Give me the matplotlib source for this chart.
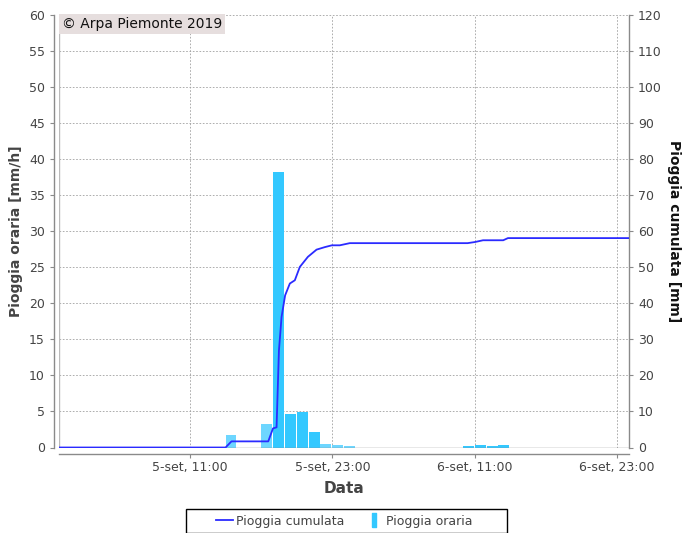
import datetime as dt

import matplotlib
matplotlib.use("Agg")
import matplotlib.pyplot as plt
from matplotlib.lines import Line2D
from matplotlib.patches import Rectangle

plt.rcParams["font.family"] = ["DejaVu Sans"]

T0 = dt.datetime(2019, 9, 5, 0, 0)

# hourly rain (mm/h): hour offset from 5-set 00:00 -> value
bar_hours = [14, 17, 18, 19, 20, 21, 22, 23, 24, 34, 35, 36, 37]
bar_vals = [1.7, 3.3, 38.2, 4.7, 4.9, 2.1, 0.5, 0.4, 0.2, 0.2, 0.4, 0.2, 0.4]
bar_light = [True, True, False, False, False, False, True, True, True, False, False, False, False]

# cumulated rain (mm) vs hour offset
cum_hours = [0, 14.0, 14.5, 17.6, 18.0, 18.3, 18.5, 18.72, 19.02, 19.42, 19.84, 20.26,
             20.94, 21.67, 22.37, 22.96, 23.63, 24.47, 34.4, 35.0, 35.7, 37.4, 37.8, 48.0]
cum_vals = [0, 0, 1.7, 1.7, 5.3, 5.6, 26.9, 36.2, 42.2, 45.5, 46.4, 50.1,
            52.9, 54.9, 55.6, 56.1, 56.1, 56.7, 56.7, 57.0, 57.5, 57.5, 58.1, 58.1]

tick_hours = [11, 23, 35, 47]
tick_labels = ["5-set, 11:00", "5-set, 23:00", "6-set, 11:00", "6-set, 23:00"]

BAR_C = "#33c8ff"
BAR_LIGHT = "#6dd6ff"
LINE_C = "#2b2bff"
GRID_C = "#a0a0a0"
AXIS_C = "#8a8a8a"
TXT_C = "#444444"

W, H = 685, 533
fig = plt.figure(figsize=(W / 100, H / 100), dpi=100)
ax = fig.add_axes([59.4 / W, 1 - 447.5 / H, (629 - 59.4) / W, (447.5 - 15) / H])
ax2 = ax.twinx()

hour = dt.timedelta(hours=1)
bx = [T0 + h * hour for h in bar_hours]
cols = [BAR_LIGHT if l else BAR_C for l in bar_light]
ax.bar(bx, bar_vals, width=0.92 / 24, align="edge", color=cols, linewidth=0, zorder=3)

cx = [T0 + dt.timedelta(hours=h) for h in cum_hours]
ax2.plot(cx, cum_vals, color=LINE_C, lw=1.3, zorder=4)

ax.set_xlim(T0, T0 + 48 * hour)
ax.set_ylim(0, 60)
ax2.set_ylim(0, 120)
ax.set_yticks(range(0, 61, 5))
ax2.set_yticks(range(0, 121, 10))
ax.set_xticks([T0 + h * hour for h in tick_hours])
ax.set_xticklabels(tick_labels)

ax.grid(True, color=GRID_C, ls=(0, (2, 2)), lw=0.6, zorder=0)
ax.set_axisbelow(True)

# spines: offset axes like the original renderer
for a in (ax, ax2):
    for s in a.spines.values():
        s.set_visible(False)
ax.spines["left"].set_visible(True)
ax.spines["left"].set_position(("outward", 4))
ax.spines["bottom"].set_visible(True)
ax.spines["bottom"].set_position(("outward", 5))
ax2.spines["right"].set_visible(True)
for s in (ax.spines["left"], ax.spines["bottom"], ax2.spines["right"]):
    s.set_color(AXIS_C)
    s.set_linewidth(1.0)
ax.axhline(0, color=AXIS_C, lw=1.0, zorder=5)
ax.axvline(T0, color="#bbbbbb", lw=1.0, zorder=5)

for a in (ax, ax2):
    a.tick_params(colors=AXIS_C, labelcolor=TXT_C, labelsize=9, length=3, width=0.8)
ax.tick_params(axis="x", pad=2)

ax.set_ylabel("Pioggia oraria [mm/h]", fontsize=10, fontweight="bold", color=TXT_C, labelpad=4)
ax2.set_ylabel("Pioggia cumulata [mm]", fontsize=10, fontweight="bold", color="#111111",
               rotation=-90, labelpad=14)
ax.set_xlabel("Data", fontsize=11, fontweight="bold", color=TXT_C, labelpad=5)

ax.text(0.004, 0.995, "\u00a9 Arpa Piemonte 2019", transform=ax.transAxes, fontsize=10,
        va="top", ha="left", color="#111111", zorder=6,
        bbox=dict(boxstyle="square,pad=0.2", fc="#e6dede", ec="none"))

# legend: frame drawn as a figure rectangle, entries centred in it
fig.patches.append(Rectangle((186 / W, 0.0), (507 - 186) / W, 24 / H, transform=fig.transFigure,
                             fill=False, ec="black", lw=1.0))
bar_marker = [(-0.25, -1), (0.25, -1), (0.25, 1), (-0.25, 1), (-0.25, -1)]
handles = [Line2D([], [], color=LINE_C, lw=1.3),
           Line2D([], [], color=BAR_C, marker=bar_marker, ms=10, ls="none")]
leg = fig.legend(handles, ["Pioggia cumulata", "Pioggia oraria"], loc="center",
                 bbox_to_anchor=(344 / W, 12 / H), ncol=2, fontsize=9, frameon=False,
                 handlelength=1.4, handletextpad=0.2, columnspacing=1.7, borderpad=0)
for t in leg.get_texts():
    t.set_color(TXT_C)

fig.savefig("out.png", dpi=100)
